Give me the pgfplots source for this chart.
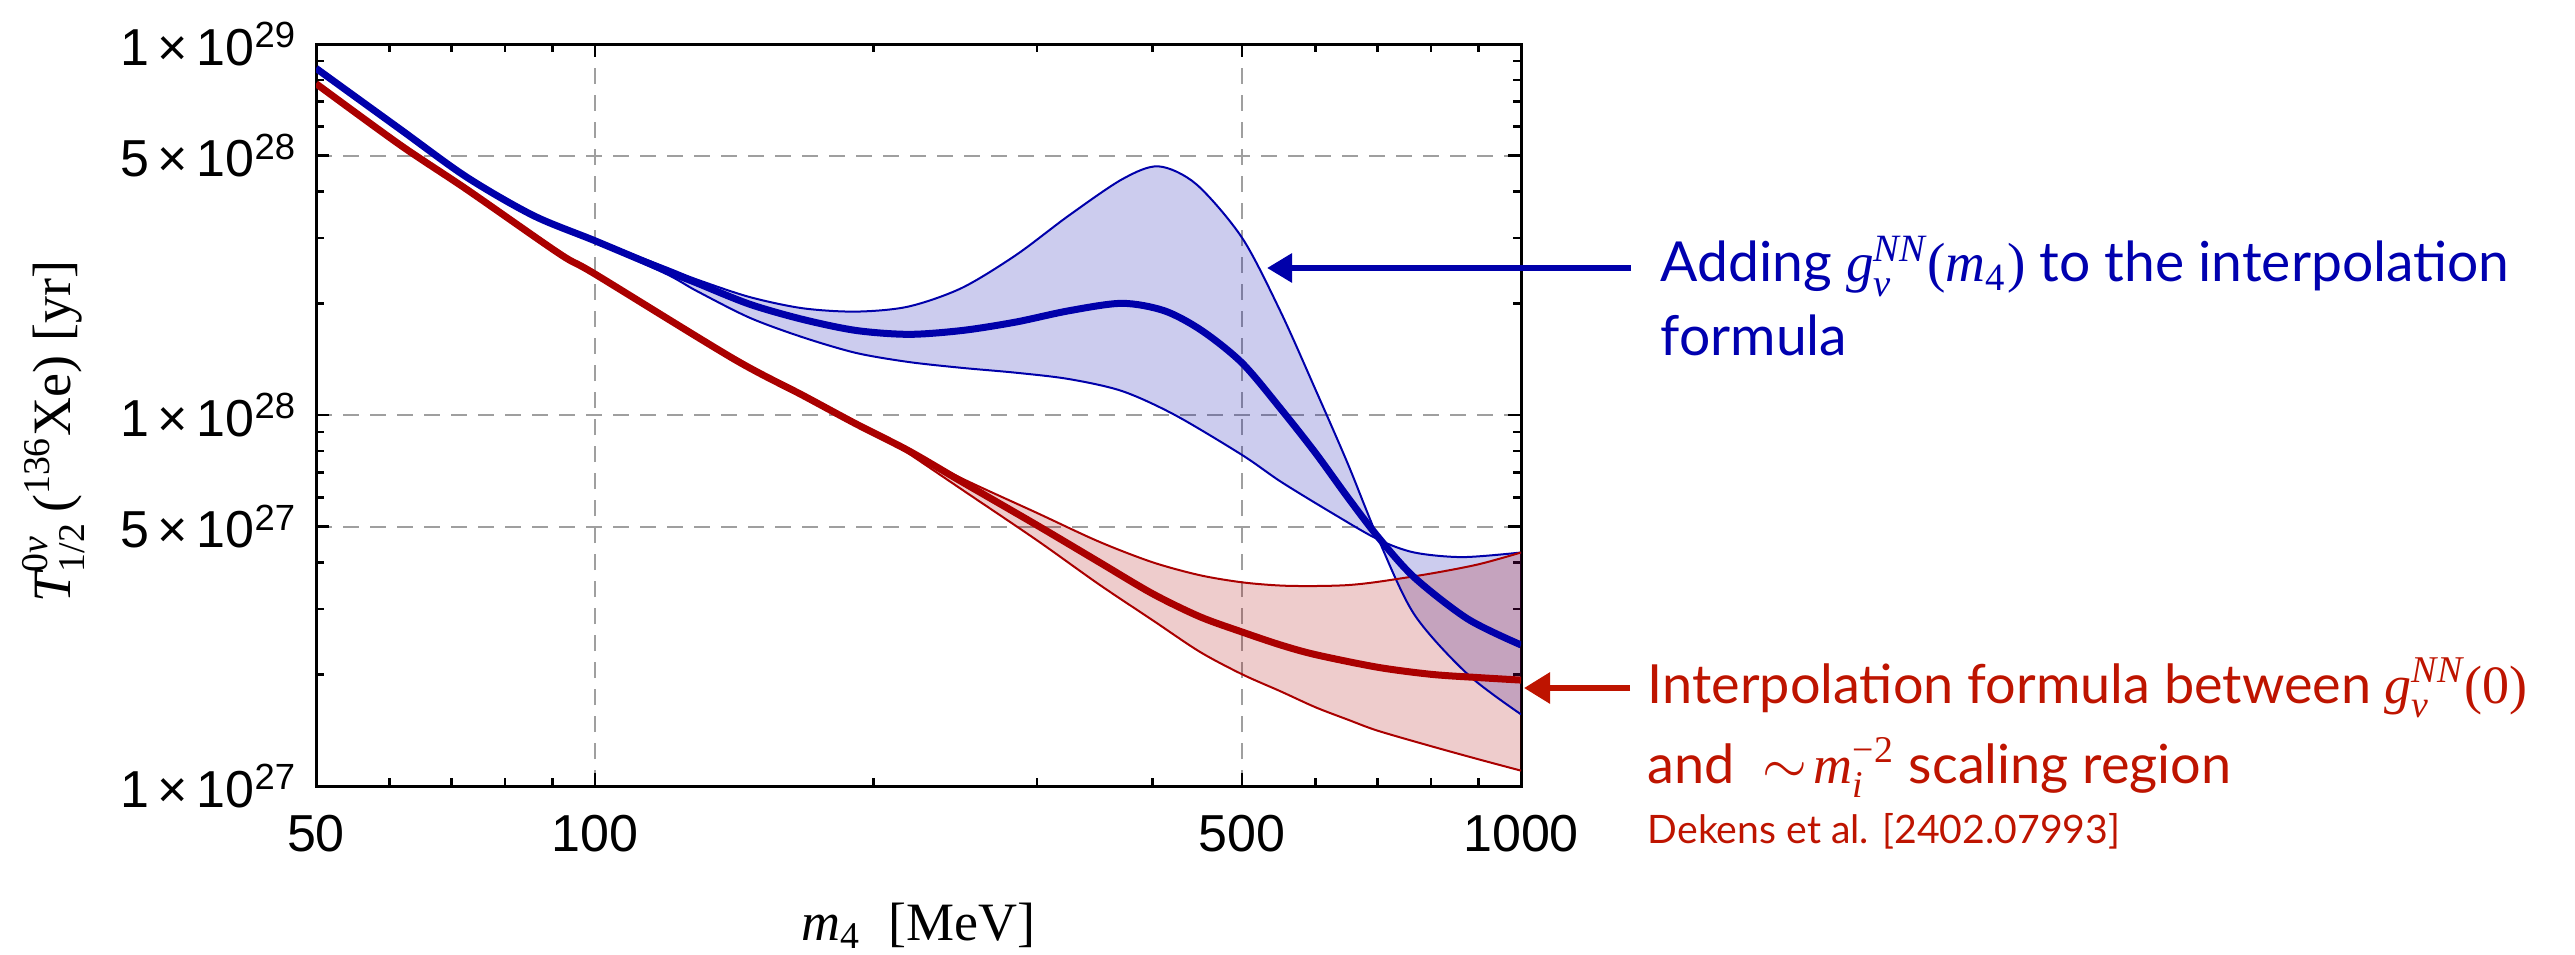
\documentclass[border=0pt]{standalone}
\usepackage{fontspec}
\usepackage{amsmath}
\usepackage{pgfplots}
\usepackage{pgfplotstable}
\pgfplotsset{compat=1.18}
\usepgfplotslibrary{fillbetween}
\usetikzlibrary{arrows.meta}
\setmainfont{Liberation Serif}
\newfontfamily\sans{Liberation Sans}
\newfontfamily\lato{Lato}
\newfontfamily\tms{Liberation Serif}
\newcommand{\ti}[1]{\text{\tms\itshape #1}}
\newcommand{\tu}[1]{\text{\tms\upshape #1}}
\definecolor{bline}{RGB}{0,0,170}
\definecolor{rline}{RGB}{170,0,0}
\definecolor{btext}{RGB}{0,0,175}
\definecolor{rtext}{RGB}{190,20,0}

\pgfplotstableread{
x y
50 8.6e28
61.6 5.9e28
72.7 4.38e28
85.8 3.45e28
100 2.95e28
119.4 2.45e28
128.8 2.27e28
146.9 1.99e28
167.7 1.81e28
191.5 1.69e28
218.4 1.65e28
249.3 1.69e28
284.6 1.78e28
325 1.91e28
370.8 2.00e28
412 1.91e28
452 1.69e28
500 1.38e28
551 1.035e28
600 7.9e27
650 6.0e27
701 4.69e27
767 3.65e27
876 2.82e27
1000 2.40e27
}\bluemid

\pgfplotstableread{
x y
90 3.29e28
100 2.97e28
119.4 2.50e28
128.8 2.32e28
146.9 2.08e28
167.7 1.94e28
191.5 1.90e28
218 1.96e28
249 2.20e28
285 2.70e28
325 3.45e28
371 4.32e28
406 4.68e28
446 4.19e28
500 3.0e28
550 1.9e28
600 1.17e28
650 7.4e27
701 4.65e27
767 2.9e27
876 2.0e27
1000 1.56e27
}\blueup

\pgfplotstableread{
x y
90 3.29e28
100 2.93e28
119.4 2.40e28
128.8 2.16e28
146.9 1.83e28
167.7 1.62e28
191.5 1.47e28
218 1.39e28
249 1.34e28
285 1.30e28
325 1.25e28
371 1.16e28
423 1.0e28
500 7.8e27
551 6.6e27
630 5.38e27
701 4.62e27
767 4.26e27
865 4.14e27
1000 4.26e27
}\bluelow

\pgfplotstableread{
x y
50 7.82e28
61.6 5.35e28
72.7 4.06e28
91.6 2.72e28
100 2.40e28
141 1.42e28
167.7 1.13e28
191.5 9.46e27
218 8.02e27
249 6.61e27
300 5.05e27
350 4.02e27
400 3.30e27
450 2.86e27
500 2.60e27
550 2.40e27
600 2.26e27
700 2.09e27
800 2.00e27
900 1.96e27
1000 1.93e27
}\redmid

\pgfplotstableread{
x y
210 8.4e27
249 6.75e27
300 5.45e27
350 4.56e27
400 4.01e27
450 3.70e27
500 3.54e27
550 3.47e27
600 3.46e27
650 3.48e27
700 3.55e27
800 3.74e27
900 3.96e27
1000 4.26e27
}\redup

\pgfplotstableread{
x y
210 8.4e27
249 6.3e27
300 4.6e27
350 3.5e27
400 2.8e27
450 2.3e27
500 2.0e27
550 1.8e27
600 1.63e27
650 1.51e27
700 1.41e27
800 1.28e27
900 1.18e27
1000 1.10e27
}\redlow

\begin{document}
\begin{tikzpicture}
\begin{axis}[
  at={(79pt,42pt)}, anchor=south west,
  scale only axis, width=301.25pt, height=185.5pt,
  xmode=log, ymode=log,
  xmin=50, xmax=1000, ymin=1e27, ymax=1e29,
  xtick={50,100,500,1000},
  xticklabels={50,100,500,1000},
  minor xtick={60,70,80,90,200,300,400,600,700,800,900},
  ytick={1e27,5e27,1e28,5e28,1e29},
  yticklabels={{1\,×\,10\textsuperscript{27}},{5\,×\,10\textsuperscript{27}},{1\,×\,10\textsuperscript{28}},{5\,×\,10\textsuperscript{28}},{1\,×\,10\textsuperscript{29}}},
  minor ytick={2e27,3e27,4e27,6e27,7e27,8e27,9e27,2e28,3e28,4e28,6e28,7e28,8e28,9e28},
  tick align=inside,
  major tick length=3.25pt, minor tick length=2pt,
  tick style={black, line width=0.6pt},
  axis line style={line width=0.75pt},
  grid=major,
  major grid style={gray!75, line width=0.5pt, dash pattern=on 4pt off 2.75pt},
  xticklabel style={inner sep=0pt, yshift=-7pt, font=\sans\fontsize{13}{15}\selectfont},
  yticklabel style={inner sep=0pt, xshift=-4.5pt, font=\sans\fontsize{13}{15}\selectfont},
]
\addplot[draw=none, name path=bu, smooth] table[x=x,y=y] {\blueup};
\addplot[draw=none, name path=bl, smooth] table[x=x,y=y] {\bluelow};
\addplot[draw=none, name path=ru, smooth] table[x=x,y=y] {\redup};
\addplot[draw=none, name path=rl, smooth] table[x=x,y=y] {\redlow};
\addplot[fill=bline, fill opacity=0.2, draw=none] fill between[of=bu and bl];
\addplot[fill=rline, fill opacity=0.2, draw=none] fill between[of=ru and rl];
\addplot[bline, line width=0.5pt, smooth] table[x=x,y=y] {\blueup};
\addplot[bline, line width=0.5pt, smooth] table[x=x,y=y] {\bluelow};
\addplot[rline, line width=0.5pt, smooth] table[x=x,y=y] {\redup};
\addplot[rline, line width=0.5pt, smooth] table[x=x,y=y] {\redlow};
\addplot[rline, line width=1.75pt, smooth] table[x=x,y=y] {\redmid};
\addplot[bline, line width=1.75pt, smooth] table[x=x,y=y] {\bluemid};
\end{axis}
% axis labels
\node[anchor=base, inner sep=0pt, font=\tms\fontsize{13.5}{16}\selectfont] at (229.6pt,3.5pt)
  {\textit{m}\textsubscript{4}\ \ [MeV]};
\node[rotate=90, anchor=base west, inner sep=0pt, font=\tms\fontsize{13.5}{16}\selectfont] at (17.5pt,87.75pt)
  {$\ti{T}^{\tu{0}\ti{ν}}_{\tu{1/2}}$\,(\textsuperscript{136}Xe)\ [yr]};
% annotations
\draw[bline, line width=1.5pt, -{Triangle[length=6.25pt,width=7pt]}] (407.75pt,171.5pt) -- (316.75pt,171.5pt);
\draw[rtext, line width=1.5pt, -{Triangle[length=6.5pt,width=7.5pt]}] (407.5pt,66.5pt) -- (381pt,66.5pt);
\node[anchor=base west, inner sep=0pt, text=btext, font=\lato\fontsize{13.8}{16}\selectfont] at (415pt,168pt)
  {Adding $\ti{g}^{\ti{NN}}_{\ti{ν}}\tu{(}\ti{m}_{\tu{4}}\tu{)}$ to the interpolation};
\node[anchor=base west, inner sep=0pt, text=btext, font=\lato\fontsize{13.8}{16}\selectfont] at (415pt,149.75pt) {formula};
\node[anchor=base west, inner sep=0pt, text=rtext, font=\lato\fontsize{13.5}{16}\selectfont] at (411.75pt,62.75pt)
  {Interpolation formula between $\ti{g}^{\ti{NN}}_{\ti{ν}}\tu{(0)}$};
\node[anchor=base west, inner sep=0pt, text=rtext, font=\lato\fontsize{13.5}{16}\selectfont] at (411.75pt,42.75pt)
  {and \ $\sim\!\ti{m}_{\ti{i}}^{\tu{−2}}$ scaling region};
\node[anchor=base west, inner sep=0pt, text=rtext, font=\lato\fontsize{9.8}{11}\selectfont] at (411.75pt,27.75pt)
  {Dekens et al. [2402.07993]};
\pgfresetboundingbox
\useasboundingbox (0pt,0pt) rectangle (643.75pt,238.5pt);
\end{tikzpicture}
\end{document}
